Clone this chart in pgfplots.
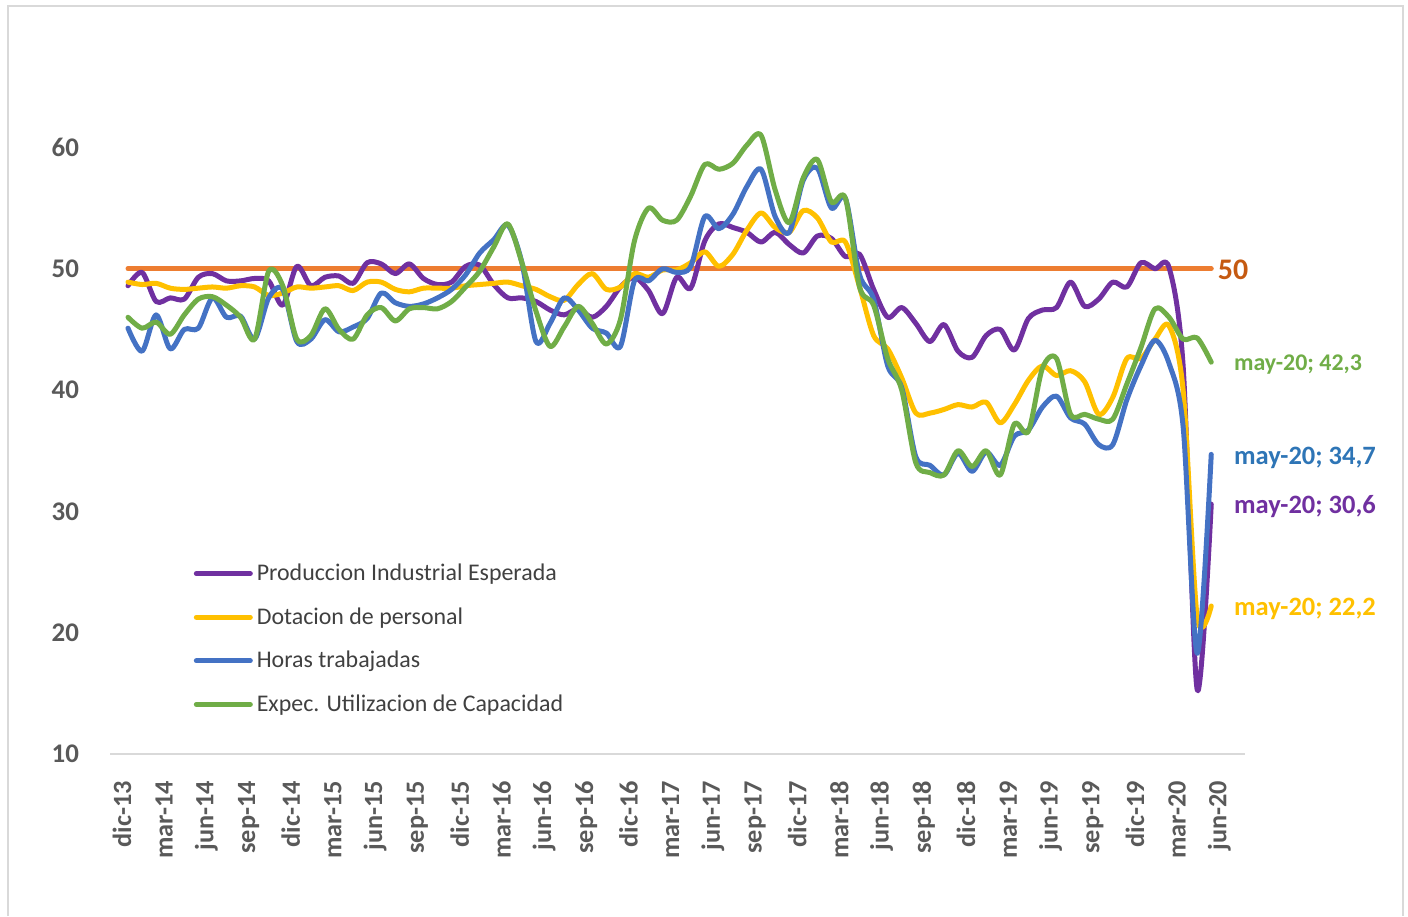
\documentclass[border=0pt]{standalone}
\usepackage{pgfplots}
\usepackage{pgfplotstable}
\pgfplotsset{compat=1.18}
\usepackage{fontspec}
\setmainfont{Carlito}
\definecolor{cPurple}{HTML}{7030A0}
\definecolor{cYellow}{HTML}{FFC000}
\definecolor{cBlue}{HTML}{4472C4}
\definecolor{cGreen}{HTML}{70AD47}
\definecolor{cOrange}{HTML}{ED7D31}
\definecolor{cOrangeDark}{HTML}{C55A11}
\definecolor{cBlueDark}{HTML}{2E75B6}
\definecolor{cTick}{HTML}{595959}
\definecolor{cLeg}{HTML}{404040}
\definecolor{cFrame}{HTML}{D9D9D9}

% x: 0 = dic-13 ... 77 = may-20
\pgfplotstableread{
x  p     y     b     g
0  48.6  48.9  45.1  46.0
1  49.7  48.7  43.2  45.1
2  47.3  48.8  46.2  45.6
3  47.6  48.4  43.4  44.6
4  47.5  48.3  45.0  46.2
5  49.3  48.4  45.1  47.5
6  49.6  48.5  47.6  47.7
7  49.0  48.4  46.0  47.0
8  49.0  48.6  46.1  46.0
9  49.2  48.5  44.2  44.2
10 49.0  47.8  47.6  49.8
11 47.0  48.0  48.3  48.6
12 50.2  48.5  44.0  44.2
13 48.6  48.4  44.2  44.5
14 49.3  48.5  45.8  46.7
15 49.4  48.6  44.8  45.0
16 48.8  48.2  45.2  44.2
17 50.5  48.9  45.9  46.2
18 50.4  48.9  48.0  46.8
19 49.6  48.3  47.2  45.7
20 50.4  48.1  46.9  46.7
21 49.2  48.4  47.1  46.8
22 48.7  48.4  47.6  46.7
23 48.9  48.4  48.3  47.3
24 50.2  48.6  49.5  48.5
25 50.3  48.7  51.3  49.8
26 48.7  48.8  52.4  51.8
27 47.6  48.9  53.6  53.7
28 47.6  48.6  50.5  50.5
29 47.3  48.3  44.0  46.5
30 46.6  47.7  45.5  43.6
31 46.2  47.4  47.6  45.2
32 46.7  48.7  46.6  46.9
33 46.0  49.6  45.1  45.5
34 46.9  48.3  44.7  43.8
35 48.5  48.5  43.6  45.8
36 49.3  49.6  49.0  52.3
37 48.2  49.3  49.0  55.0
38 46.3  49.9  50.0  54.0
39 49.3  49.9  49.7  54.0
40 48.4  50.5  50.2  56.0
41 52.3  51.4  54.3  58.6
42 53.7  50.2  53.3  58.2
43 53.4  51.2  54.5  58.7
44 53.0  53.2  56.8  60.2
45 52.2  54.6  58.2  61.0
46 53.0  53.4  54.3  56.5
47 52.0  53.0  53.0  53.8
48 51.3  54.8  57.3  57.5
49 52.7  54.2  58.3  59.0
50 52.5  52.2  55.0  55.5
51 51.0  52.2  55.8  55.8
52 51.2  48.5  49.5  48.5
53 48.3  44.5  47.5  47.0
54 46.0  43.4  42.0  42.6
55 46.8  41.0  40.2  40.0
56 45.5  38.1  34.5  34.0
57 44.0  38.1  33.8  33.2
58 45.4  38.4  33.0  33.0
59 43.2  38.8  34.8  35.0
60 42.7  38.6  33.3  33.7
61 44.5  39.0  34.9  35.0
62 45.0  37.3  33.8  33.0
63 43.3  38.8  36.2  37.2
64 45.9  40.8  36.7  36.6
65 46.6  42.0  38.6  41.8
66 46.8  41.2  39.5  42.6
67 48.9  41.6  37.7  38.0
68 46.9  40.7  37.2  38.0
69 47.5  38.0  35.5  37.6
70 48.9  39.4  35.5  37.6
71 48.5  42.6  39.2  40.5
72 50.5  42.6  42.0  43.5
73 50.0  44.2  44.1  46.7
74 50.1  45.3  42.2  46.0
75 42.0  40.0  37.0  44.2
76 15.3  21.3  18.3  44.3
77 30.6  22.2  34.7  42.3
}\datatable

\pgfplotstableread{
x  v
0  50
77 50
}\reftable

\begin{document}
\begin{tikzpicture}
\draw[cFrame, line width=1bp] (4bp,0.5bp) -- (4bp,455.5bp) -- (701.5bp,455.5bp) -- (701.5bp,0.5bp);
\begin{axis}[
  at={(55bp,81.5bp)}, anchor=south west,
  scale only axis, width=567.5bp, height=333.6bp,
  xmin=-1.28, xmax=79.4, ymin=10, ymax=65,
  clip=false,
  axis x line*=bottom, axis y line*=left,
  x axis line style={draw=cFrame, line width=1bp, -},
  y axis line style={draw=none},
  major tick length=0pt,
  xtick={0,3,...,78},
  xticklabels={dic-13,mar-14,jun-14,sep-14,dic-14,mar-15,jun-15,sep-15,dic-15,mar-16,jun-16,sep-16,dic-16,mar-17,jun-17,sep-17,dic-17,mar-18,jun-18,sep-18,dic-18,mar-19,jun-19,sep-19,dic-19,mar-20,jun-20},
  ytick={10,20,...,60},
  /pgf/number format/assume math mode=true,
  xticklabel style={rotate=90, anchor=east, xshift=-10bp, yshift=3bp, font=\fontsize{13.2}{14}\selectfont\bfseries, text=cTick},
  yticklabel style={anchor=east, xshift=-12bp, font=\fontsize{13.5}{14}\selectfont\bfseries, text=cTick},
  every axis plot/.append style={line width=2.5bp, line cap=round, line join=round},
  legend cell align=left,
  legend style={at={(0.0735,0.2915)}, anchor=north west, draw=none, fill=none,
    font=\fontsize{12}{13}\selectfont, text=cLeg, row sep=8bp, inner sep=0pt,
    /tikz/every even column/.append style={column sep=0pt}},
  legend image code/.code={\draw[#1] (0bp,0bp) -- (27bp,0bp);},
]
\addplot[cOrange, forget plot] table[x=x, y=v] {\reftable};
\addplot[cPurple, smooth, tension=0.5] table[x=x, y=p] {\datatable};
\addlegendentry{Produccion Industrial Esperada}
\addplot[cYellow, smooth, tension=0.5] table[x=x, y=y] {\datatable};
\addlegendentry{Dotacion de personal}
\addplot[cBlue, smooth, tension=0.5] table[x=x, y=b] {\datatable};
\addlegendentry{Horas trabajadas}
\addplot[cGreen, smooth, tension=0.5] table[x=x, y=g] {\datatable};
\addlegendentry{Expec. Utilizacion de Capacidad}

\node[anchor=west, text=cOrangeDark, font=\fontsize{15}{16}\selectfont\bfseries, inner sep=0pt] at (axis cs:77.45,49.9) {50};
\node[anchor=west, text=cGreen, font=\fontsize{12}{13}\selectfont\bfseries, inner sep=0pt] at (axis cs:78.6,42.1) {may-20; 42,3};
\node[anchor=west, text=cBlueDark, font=\fontsize{13.3}{14}\selectfont\bfseries, inner sep=0pt] at (axis cs:78.6,34.4) {may-20; 34,7};
\node[anchor=west, text=cPurple, font=\fontsize{13.3}{14}\selectfont\bfseries, inner sep=0pt] at (axis cs:78.6,30.4) {may-20; 30,6};
\node[anchor=west, text=cYellow, font=\fontsize{13.3}{14}\selectfont\bfseries, inner sep=0pt] at (axis cs:78.6,22.0) {may-20; 22,2};
\end{axis}
\pgfresetboundingbox
\path[use as bounding box] (0bp,0bp) rectangle (704bp,458.5bp);
\end{tikzpicture}
\end{document}
